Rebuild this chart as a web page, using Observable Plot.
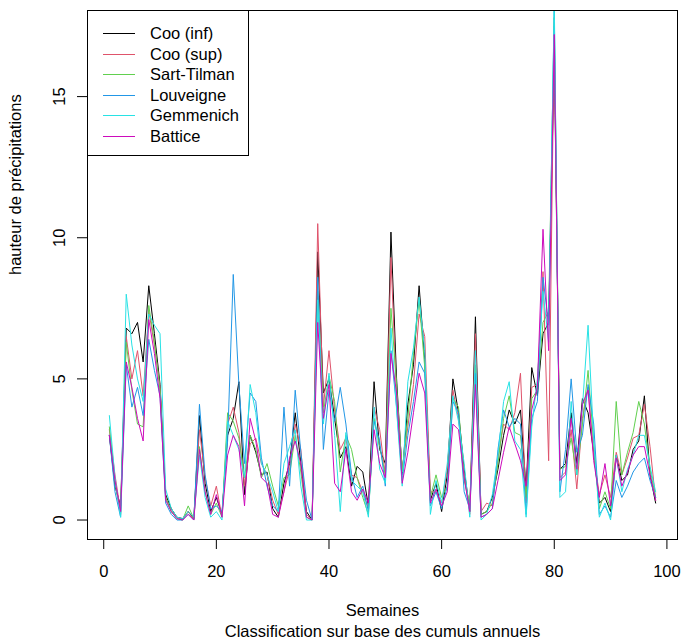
<!DOCTYPE html>
<html><head><meta charset="utf-8">
<script src="https://cdn.jsdelivr.net/npm/d3@7"></script>
<script src="https://cdn.jsdelivr.net/npm/@observablehq/plot@0.6"></script>
<style>
body{margin:0;background:#fff;font-family:"Liberation Sans",Arial,sans-serif;}
#wrap{position:relative;width:681px;height:643px;}
#legend{position:absolute;left:87px;top:10px;width:162px;height:146px;border:1px solid #000;background:#fff;box-sizing:border-box;font-size:16.5px;color:#000;}
.row{position:absolute;left:0;height:20px;line-height:20px;width:100%;}
.sw{position:absolute;left:15px;top:10px;width:32px;height:1px;}
.lb{position:absolute;left:62px;top:0;white-space:nowrap;}
</style>
</head><body>
<div id="wrap"><div id="legend"></div></div>
<script>
const weeks = d3.range(1, 99);
const seriesNames = ["Coo (inf)", "Coo (sup)", "Sart-Tilman", "Louveigne", "Gemmenich", "Battice"];
const seriesColors = ["#000000", "#DF536B", "#61D04F", "#2297E6", "#28E2E5", "#CD0BBC"];
const xTicks = [0, 20, 40, 60, 80, 100];
const yTicks = [0, 5, 10, 15];
const xTitle = "Semaines";
const subTitle = "Classification sur base des cumuls annuels";
const yTitle = "hauteur de précipitations";

const cooInf = [3.0,1.2,0.5,6.8,6.6,7.0,5.6,8.3,6.6,4.8,
0.9,0.4,0.1,0.05,0.3,0.05,3.7,1.3,0.3,0.8,
0.2,3.0,3.6,4.9,0.9,3.0,2.4,1.6,1.7,0.4,
0.1,1.3,2.0,3.8,2.0,0.3,0.0,9.5,4.5,5.0,
3.6,2.2,2.6,1.2,1.9,1.7,0.5,4.9,2.5,2.0,
10.2,5.0,1.6,4.1,5.5,8.3,5.7,0.7,1.3,0.3,
1.6,5.0,3.8,1.8,0.3,7.2,0.2,0.3,0.8,1.8,
3.0,3.9,3.4,3.9,1.1,5.4,4.4,6.6,7.0,16.6,
1.8,2.0,3.8,2.0,4.3,3.8,2.4,0.6,0.8,0.3,
2.3,1.4,1.6,2.5,2.8,4.4,1.6,0.6];
const cooSup = [3.2,1.6,0.3,6.5,5.0,6.0,4.4,7.4,6.2,4.7,
0.8,0.3,0.1,0.0,0.3,0.0,3.2,1.5,0.5,1.2,
0.1,3.4,4.0,3.1,1.2,2.7,2.9,2.0,1.6,0.7,
0.2,1.0,1.8,3.4,2.5,0.2,0.0,10.5,4.0,6.0,
3.9,2.5,2.9,1.6,1.5,1.0,0.4,4.0,3.2,1.6,
9.3,4.4,1.8,3.3,4.8,7.3,6.5,1.0,1.0,0.6,
1.8,4.6,3.6,1.6,0.2,6.6,0.3,0.6,0.5,2.2,
3.4,3.2,3.8,5.2,0.6,4.7,4.8,8.8,2.1,17.5,
1.5,1.7,3.2,1.1,3.6,4.7,2.3,0.9,1.6,0.8,
2.4,1.6,2.2,2.9,3.0,4.1,2.6,0.7];
const sartTilman = [3.3,1.3,0.2,6.3,4.6,3.4,3.3,7.6,6.3,4.6,
0.8,0.3,0.05,0.0,0.5,0.05,2.6,1.0,0.2,0.6,
0.1,3.8,3.5,2.9,1.5,3.0,2.5,1.5,2.0,1.2,
0.5,1.5,1.6,3.0,1.7,0.1,0.0,8.1,3.8,5.1,
4.2,1.7,3.0,2.5,1.5,0.8,0.2,3.6,2.6,1.6,
7.5,4.8,1.7,3.6,5.9,7.8,5.4,0.8,1.6,0.8,
1.2,4.3,4.0,1.4,0.6,5.5,0.2,0.3,0.6,2.0,
3.6,4.4,3.1,3.0,0.8,4.3,4.6,7.0,7.4,17.8,
1.8,1.9,2.9,1.6,3.4,5.3,2.7,0.4,1.0,0.4,
4.2,1.6,2.4,3.1,4.2,3.4,1.8,0.8];
const louveigne = [3.0,1.0,0.1,5.5,4.0,4.7,3.7,6.4,5.3,4.4,
0.6,0.2,0.0,0.0,0.2,0.0,4.1,1.6,0.4,0.5,
0.3,2.8,8.7,4.8,2.0,4.5,4.2,2.2,1.2,0.5,
0.3,4.0,1.2,4.6,2.4,0.7,0.0,8.6,2.5,4.6,
3.5,4.7,3.4,1.6,0.8,1.2,0.3,3.5,2.8,1.2,
6.0,4.0,1.4,3.0,4.2,5.6,5.2,0.5,1.0,0.4,
1.2,4.2,3.8,1.0,0.4,5.2,0.1,0.2,0.4,2.5,
3.9,3.3,3.6,3.4,0.2,3.6,4.2,8.6,6.9,18.1,
1.0,2.5,5.0,2.4,3.0,4.8,3.4,0.2,0.5,0.1,
1.4,0.8,1.2,1.7,2.0,2.2,1.4,0.8];
const gemmenich = [3.7,1.5,0.1,8.0,6.2,5.0,4.2,7.3,6.9,6.6,
1.1,0.4,0.1,0.05,0.3,0.1,2.3,0.8,0.1,0.3,
0.0,3.5,3.0,2.5,1.5,4.8,3.8,2.0,1.6,1.0,
0.3,2.0,2.6,3.2,1.2,0.0,0.0,7.8,3.4,5.2,
3.0,0.3,3.1,1.4,1.2,1.0,0.1,4.0,1.8,1.3,
6.8,3.9,1.2,4.9,6.1,7.9,6.0,0.2,1.4,0.6,
2.0,4.4,3.5,2.0,0.1,6.0,0.0,0.2,0.9,2.3,
4.2,4.9,2.8,2.5,0.1,3.3,5.0,8.1,6.3,18.4,
0.8,1.0,4.2,1.6,4.0,6.9,2.8,0.1,0.6,0.0,
2.3,1.0,1.8,2.3,3.0,3.0,1.9,1.0];
const battice = [3.0,1.4,0.3,5.6,4.7,3.6,2.8,7.1,5.9,4.3,
0.7,0.3,0.05,0.0,0.2,0.0,2.5,1.0,0.2,0.9,
0.1,2.3,3.0,2.6,0.5,3.6,2.8,1.5,1.3,0.2,
0.1,1.0,2.2,2.8,2.0,0.1,0.0,7.0,3.6,4.8,
1.3,1.0,2.5,1.0,0.7,1.1,0.6,3.2,2.0,1.5,
5.9,4.5,1.3,2.4,3.8,5.2,4.5,0.6,1.1,0.5,
1.0,3.4,3.2,1.5,0.3,4.8,0.1,0.2,0.4,1.4,
2.4,3.3,2.7,2.1,1.2,3.9,4.7,10.3,6.0,17.2,
1.4,1.6,3.6,1.8,4.1,4.6,2.1,0.8,2.0,0.5,
2.2,1.2,1.7,2.3,2.6,2.6,1.6,0.7];

const seriesValues = [cooInf, cooSup, sartTilman, louveigne, gemmenich, battice];
const rows = [];
seriesNames.forEach((name, i) => {
  weeks.forEach((w, j) => rows.push({series: name, week: w, value: seriesValues[i][j]}));
});

const chart = Plot.plot({
  width: 681, height: 643,
  marginLeft: 87, marginRight: 4, marginTop: 10, marginBottom: 104,
  style: {fontFamily: "'Liberation Sans', Arial, sans-serif", fontSize: "16.5px", background: "#fff", color: "#000"},
  x: {domain: [-2.88, 101.88]},
  y: {domain: [-0.69, 18.05]},
  color: {domain: seriesNames, range: seriesColors},
  marks: [
    Plot.line(rows, {x: "week", y: "value", z: "series", stroke: "series", strokeWidth: 1, clip: true}),
    Plot.frame({stroke: "#000", strokeWidth: 1}),
    Plot.axisX({ticks: xTicks, tickSize: 10, tickPadding: 16, label: null, stroke: "#000"}),
    Plot.axisY({ticks: yTicks, tickSize: 10, tickPadding: 13, tickRotate: -90, label: null, stroke: "#000"}),
    Plot.text([xTitle], {text: d => d, frameAnchor: "bottom", dy: 76, fontSize: 16.5}),
    Plot.text([subTitle], {text: d => d, frameAnchor: "bottom", dy: 97, fontSize: 16.5}),
    Plot.text([yTitle], {text: d => d, frameAnchor: "left", rotate: -90, dx: -72, fontSize: 16.5})
  ]
});
const wrap = document.getElementById("wrap");
wrap.insertBefore(chart, wrap.firstChild);

const legend = document.getElementById("legend");
seriesNames.forEach((name, i) => {
  const row = document.createElement("div");
  row.className = "row";
  row.style.top = (12 + i * 20.6) + "px";
  const sw = document.createElement("div");
  sw.className = "sw";
  sw.style.background = seriesColors[i];
  const lb = document.createElement("div");
  lb.className = "lb";
  lb.textContent = name;
  row.appendChild(sw); row.appendChild(lb);
  legend.appendChild(row);
});
</script>
</body></html>
